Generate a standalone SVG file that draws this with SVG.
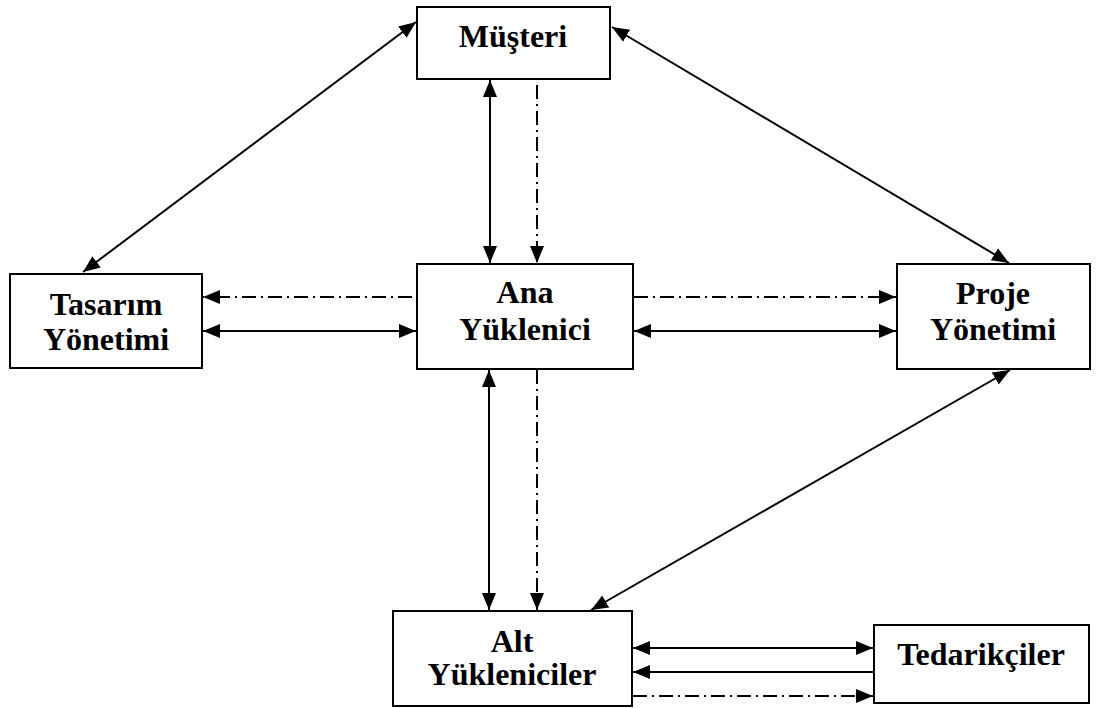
<svg xmlns="http://www.w3.org/2000/svg" width="1097" height="708" viewBox="0 0 1097 708">
  <defs>
    <marker id="arrow" markerUnits="userSpaceOnUse" markerWidth="18" markerHeight="16" refX="17" refY="8" orient="auto-start-reverse">
      <path d="M0,1 L17,8 L0,15 z" fill="#000"/>
    </marker>
    <style>
      .box { fill: #fff; stroke: #000; stroke-width: 2; }
      .lbl { font-family: "Liberation Serif", "Times New Roman", serif; font-weight: bold; font-size: 32px; fill: #000; text-anchor: middle; }
      .solid { stroke: #000; stroke-width: 2; fill: none; }
      .dashdot { stroke: #000; stroke-width: 2; fill: none; stroke-dasharray: 14 5 2 5; }
      .both { marker-start: url(#arrow); marker-end: url(#arrow); }
      .end { marker-end: url(#arrow); }
    </style>
  </defs>
  <rect width="1097" height="708" fill="#fff"/>

  <!-- connectors -->
  <g id="connectors">
    <!-- diagonals -->
    <line class="solid both" x1="416" y1="22" x2="83" y2="272"/>
    <line class="solid both" x1="612" y1="27" x2="1009" y2="263"/>
    <line class="solid both" x1="1010" y1="370" x2="591" y2="610"/>
    <!-- Müşteri - Ana Yüklenici -->
    <line class="solid both" x1="490" y1="80" x2="490" y2="263"/>
    <line class="dashdot end" x1="537" y1="85" x2="537" y2="263"/>
    <!-- Tasarım Yönetimi - Ana Yüklenici -->
    <line class="dashdot end" x1="412" y1="297" x2="203" y2="297"/>
    <line class="solid both" x1="203" y1="331" x2="416" y2="331"/>
    <!-- Ana Yüklenici - Proje Yönetimi -->
    <line class="dashdot end" x1="634" y1="297" x2="896" y2="297"/>
    <line class="solid both" x1="634" y1="331" x2="896" y2="331"/>
    <!-- Ana Yüklenici - Alt Yükleniciler -->
    <line class="solid both" x1="489" y1="370" x2="489" y2="610"/>
    <line class="dashdot end" x1="537" y1="370" x2="537" y2="610"/>
    <!-- Alt Yükleniciler - Tedarikçiler -->
    <line class="solid both" x1="633" y1="648" x2="873" y2="648"/>
    <line class="solid end" x1="873" y1="672" x2="633" y2="672"/>
    <line class="dashdot end" x1="633" y1="696" x2="873" y2="696"/>
  </g>

  <!-- nodes -->
  <g id="musteri">
    <rect class="box" x="417" y="7" width="193" height="72"/>
    <text class="lbl" x="513" y="47">Müşteri</text>
  </g>
  <g id="tasarim">
    <rect class="box" x="10" y="274" width="192" height="94"/>
    <text class="lbl" x="106" y="315">Tasarım</text>
    <text class="lbl" x="106" y="350">Yönetimi</text>
  </g>
  <g id="ana">
    <rect class="box" x="417" y="264" width="216" height="105"/>
    <text class="lbl" x="525" y="303">Ana</text>
    <text class="lbl" x="525" y="340">Yüklenici</text>
  </g>
  <g id="proje">
    <rect class="box" x="897" y="264" width="193" height="105"/>
    <text class="lbl" x="993" y="304">Proje</text>
    <text class="lbl" x="993" y="340">Yönetimi</text>
  </g>
  <g id="alt">
    <rect class="box" x="393" y="611" width="239" height="95"/>
    <text class="lbl" x="512" y="652">Alt</text>
    <text class="lbl" x="512" y="685">Yükleniciler</text>
  </g>
  <g id="tedarikciler">
    <rect class="box" x="874" y="625" width="215" height="78"/>
    <text class="lbl" x="981" y="665">Tedarikçiler</text>
  </g>
</svg>
